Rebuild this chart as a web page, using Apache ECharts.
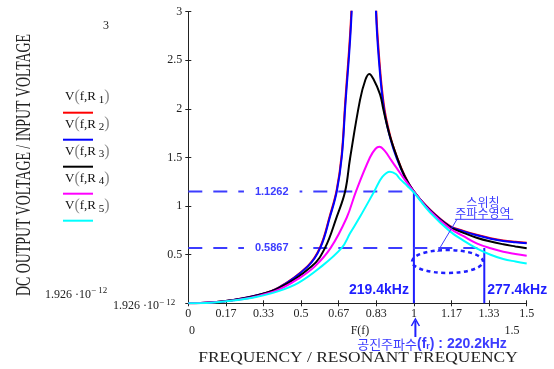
<!DOCTYPE html>
<html><head><meta charset="utf-8">
<script src="https://cdn.jsdelivr.net/npm/echarts@6/dist/echarts.min.js"></script>
<style>html,body{margin:0;padding:0;background:#fff}#c{width:554px;height:369px}</style>
</head><body><div id="c"></div>
<script>
// ---- data ----
const xTickLabels = ['0','0.17','0.33','0.5','0.67','0.83','1','1.17','1.33','1.5'];
const yTickLabels = ['0','0.5','1','1.5','2','2.5','3'];
const legendNames = ['1','2','3','4','5'];

const curveR1 = [[0,0],[0.1,0.008],[0.2,0.035],[0.3,0.081],[0.4,0.162],[0.53,0.385],[0.585,0.58],[0.628,0.905],[0.658,1.17],[0.68,1.53],[0.695,2.05],[0.724,3.08],[0.75,5.5],[0.78,9],[0.81,5.2],[0.832,3.08],[0.845,2.56],[0.867,2.04],[0.895,1.72],[0.924,1.51],[0.96,1.31],[1.0,1.15],[1.071,0.965],[1.16,0.795],[1.22,0.745],[1.278,0.705],[1.34,0.67],[1.396,0.646],[1.45,0.632],[1.5,0.622]];
const curveR2 = [[0,0],[0.1,0.008],[0.2,0.035],[0.3,0.08],[0.4,0.16],[0.53,0.38],[0.585,0.57],[0.628,0.89],[0.658,1.15],[0.68,1.5],[0.695,2.0],[0.724,3.0],[0.75,5.0],[0.78,7.0],[0.81,4.8],[0.832,3.0],[0.845,2.5],[0.867,2.0],[0.895,1.7],[0.924,1.49],[0.96,1.3],[1.0,1.15],[1.071,0.96],[1.16,0.79],[1.22,0.74],[1.278,0.70],[1.34,0.665],[1.396,0.641],[1.45,0.627],[1.5,0.617]];
const curveR3 = [[0,0],[0.1,0.008],[0.2,0.034],[0.3,0.078],[0.4,0.155],[0.547,0.38],[0.606,0.57],[0.658,0.89],[0.695,1.15],[0.717,1.49],[0.761,2.09],[0.785,2.30],[0.802,2.36],[0.82,2.31],[0.85,2.15],[0.865,1.99],[0.89,1.75],[0.924,1.51],[0.96,1.30],[1.0,1.15],[1.071,0.955],[1.16,0.785],[1.22,0.725],[1.278,0.675],[1.34,0.635],[1.396,0.607],[1.45,0.585],[1.5,0.566]];
const curveR4 = [[0,0],[0.1,0.007],[0.2,0.03],[0.3,0.07],[0.4,0.14],[0.486,0.25],[0.561,0.38],[0.631,0.57],[0.702,0.88],[0.743,1.15],[0.805,1.5],[0.83,1.59],[0.847,1.61],[0.87,1.57],[0.9,1.47],[0.924,1.39],[0.96,1.27],[1.0,1.15],[1.071,0.95],[1.16,0.77],[1.22,0.69],[1.278,0.617],[1.34,0.566],[1.396,0.531],[1.45,0.508],[1.5,0.49]];
const curveR5 = [[0,0],[0.1,0.006],[0.2,0.028],[0.3,0.065],[0.4,0.125],[0.488,0.21],[0.58,0.36],[0.68,0.57],[0.717,0.72],[0.761,0.89],[0.824,1.15],[0.86,1.30],[0.894,1.354],[0.92,1.33],[0.938,1.28],[0.97,1.21],[1.0,1.14],[1.071,0.935],[1.16,0.74],[1.22,0.645],[1.278,0.566],[1.34,0.50],[1.396,0.456],[1.45,0.43],[1.5,0.41]];

const refLevels = [1.15, 0.57];          // where the dashed guide lines are drawn
const refLabels = ['1.1262', '0.5867'];
const refEnds = [1.0, 1.312];            // F(f) where each guide line stops
const freqLabels = ['219.4kHz', '277.4kHz'];

// ---- chart ----
const SERIF = 'Liberation Serif';
const SANS = 'Liberation Sans';
const KR = 'Noto Sans CJK KR';
const BLUE = '#3c3cff';
const VBLUE = '#1f1fff';
const AX = '#222';

const chart = echarts.init(document.getElementById('c'), null, {renderer: 'canvas'});

function curve(name, data, color) {
  return {name, type: 'line', data, showSymbol: false, smooth: 0.4,
    lineStyle: {color, width: 2}, itemStyle: {color}, animation: false, clip: true, silent: true};
}
function guide(data, color, type, width) {
  return {type: 'line', data, showSymbol: false, lineStyle: {color, width, type}, animation: false, silent: true, z: 1};
}

const series = [
  curve('R1', curveR1, '#ff0000'),
  curve('R2', curveR2, '#0000ff'),
  curve('R3', curveR3, '#000000'),
  curve('R4', curveR4, '#ff00ff'),
  curve('R5', curveR5, '#00ffff'),
];
refLevels.forEach((lv, i) => {
  series.push(guide([[0, lv], [refEnds[i], lv]], BLUE, [14, 11], 2));
  series.push(guide([[refEnds[i], lv], [refEnds[i], 0]], VBLUE, 'solid', 2));
});

const axisFont = {fontFamily: SERIF, fontSize: 12, color: AX};

chart.setOption({
  animation: false,
  backgroundColor: '#fff',
  grid: {left: 188.3, top: 11.7, right: 27.3, bottom: 65.7, containLabel: false, outerBoundsMode: 'none'},
  xAxis: [{
    type: 'value', min: 0, max: 1.5, interval: 1 / 6,
    axisLine: {lineStyle: {color: AX, width: 1}},
    axisTick: {length: 3, lineStyle: {color: AX}},
    splitLine: {show: false},
    axisLabel: Object.assign({margin: 5, showMaxLabel: true, showMinLabel: true,
      formatter: v => xTickLabels[Math.round(v * 6)]}, axisFont)
  }, {
    type: 'value', min: 0, max: 1.5, interval: 1 / 6, position: 'bottom',
    axisLine: {show: false}, axisLabel: {show: false}, splitLine: {show: false},
    axisTick: {inside: true, length: 3, lineStyle: {color: AX}}
  }],
  yAxis: [{
    type: 'value', min: 0, max: 3, interval: 0.5,
    axisLine: {show: true, lineStyle: {color: AX, width: 1}},
    axisTick: {show: true, length: 3, lineStyle: {color: AX}},
    splitLine: {show: false},
    axisLabel: Object.assign({margin: 6,
      formatter: v => {
        const i = Math.round(v * 2);
        if (i === 0) return '{m|1.926 ·10}{s|− 12}';
        return yTickLabels[i];
      },
      rich: {m: {fontFamily: SERIF, fontSize: 12, color: AX, padding: [6, 0, 0, 0]},
             s: {fontFamily: SERIF, fontSize: 9, color: AX, padding: [0, 7, 2, 0]}}
    }, axisFont)
  }, {
    type: 'value', min: 0, max: 3, interval: 0.5, position: 'left',
    axisLine: {show: false}, axisLabel: {show: false}, splitLine: {show: false},
    axisTick: {show: true, inside: true, length: 3, lineStyle: {color: AX}}
  }],
  series
});

// ---- annotations positioned through the chart's own scales ----
const P = (x, y) => chart.convertToPixel({gridIndex: 0}, [x, y]);
const g = [];

// guide labels
refLevels.forEach((lv, i) => {
  const p = P(0.37, lv);
  g.push({type: 'text', x: p[0], y: p[1], z: 50, style: {text: refLabels[i], fill: BLUE,
    font: 'bold 11px ' + SANS, align: 'center', verticalAlign: 'middle',
    backgroundColor: '#fff', padding: [2, 11]}});
});
{
  const a = P(refEnds[0], 0.137), b = P(refEnds[1], 0.137);
  g.push({type: 'text', x: a[0] - 5, y: a[1], z: 50, style: {text: freqLabels[0], fill: VBLUE,
    font: 'bold 14px ' + SANS, align: 'right', verticalAlign: 'middle'}});
  g.push({type: 'text', x: b[0] + 3, y: b[1], z: 50, style: {text: freqLabels[1], fill: VBLUE,
    font: 'bold 14px ' + SANS, align: 'left', verticalAlign: 'middle'}});
}
// switching-frequency region ellipse
{
  const c = P(1.149, 0.43);
  g.push({type: 'ellipse', z: 50, shape: {cx: c[0], cy: c[1], rx: 35.5, ry: 11.5},
    style: {fill: null, stroke: VBLUE, lineWidth: 2.5, lineDash: [4, 3.5]}});
  const t1 = P(1.306, 1.035), t2 = P(1.306, 0.926);
  g.push({type: 'text', x: t1[0], y: t1[1], z: 50, style: {text: '스위칭', fill: BLUE,
    font: '12px "' + KR + '"', align: 'center', verticalAlign: 'middle'}});
  g.push({type: 'text', x: t2[0], y: t2[1], z: 50, style: {text: '주파수영역', fill: BLUE,
    font: '12px "' + KR + '"', align: 'center', verticalAlign: 'middle'}});
  const u0 = P(1.182, 0.864), u1 = P(1.44, 0.864), l1 = P(1.105, 0.53);
  g.push({type: 'line', z: 50, shape: {x1: u0[0], y1: u0[1], x2: u1[0], y2: u1[1]}, style: {stroke: BLUE, lineWidth: 1}});
  g.push({type: 'line', z: 50, shape: {x1: u0[0] + 2, y1: u0[1], x2: l1[0], y2: l1[1]}, style: {stroke: BLUE, lineWidth: 1}});
}
// resonant-frequency arrow and caption below the axis
{
  const a = P(1, 0);
  const ax = a[0] + 1.5;
  g.push({type: 'line', z: 50, shape: {x1: ax, y1: 337, x2: ax, y2: 321}, style: {stroke: VBLUE, lineWidth: 2}});
  g.push({type: 'polyline', z: 50, shape: {points: [[ax - 4, 326], [ax, 319], [ax + 4, 326]]}, style: {stroke: VBLUE, lineWidth: 1.5, fill: null}});
  g.push({type: 'text', x: 432, y: 344, z: 50, style: {
    text: '{k|공진주파수}{b|(f}{r|r}{b|) : 220.2kHz}', align: 'center', verticalAlign: 'middle',
    rich: {k: {font: '13px "' + KR + '"', fill: BLUE},
           b: {font: 'bold 14px ' + SANS, fill: BLUE},
           r: {font: 'bold 9px ' + SANS, fill: BLUE, padding: [6, 0, 0, 0]}}}});
}
// second row of x labels (Mathcad style)
g.push({type: 'text', x: 192, y: 331, style: {text: '0', font: '12px ' + SERIF, fill: AX, align: 'center', verticalAlign: 'middle'}});
g.push({type: 'text', x: 360, y: 331, style: {text: 'F(f)', font: '12px ' + SERIF, fill: AX, align: 'center', verticalAlign: 'middle'}});
g.push({type: 'text', x: 512, y: 331, style: {text: '1.5', font: '12px ' + SERIF, fill: AX, align: 'center', verticalAlign: 'middle'}});
// axis titles
g.push({type: 'text', x: 358, y: 358, scaleX: 1.16, style: {text: 'FREQUENCY / RESONANT FREQUENCY', font: '15px ' + SERIF, fill: AX, align: 'center', verticalAlign: 'middle'}});
g.push({type: 'text', x: 24, y: 165, rotation: Math.PI / 2, scaleX: 0.66, style: {text: 'DC OUTPUT VOLTAGE / INPUT VOLTAGE', font: '21px ' + SERIF, fill: AX, align: 'center', verticalAlign: 'middle'}});
// left Mathcad range labels
g.push({type: 'text', x: 106, y: 26, style: {text: '3', font: '12px ' + SERIF, fill: AX, align: 'center', verticalAlign: 'middle'}});
g.push({type: 'text', x: 45, y: 292, style: {text: '{m|1.926 ·10}{s|− 12}', align: 'left', verticalAlign: 'middle',
  rich: {m: {fontFamily: SERIF, fontSize: 12, fill: AX, padding: [6, 0, 0, 0]}, s: {fontFamily: SERIF, fontSize: 9, fill: AX, padding: [0, 0, 2, 0]}}}});
// legend (text above coloured line)
const legendColors = ['#ff0000', '#0000ff', '#000000', '#ff00ff', '#00ffff'];
legendNames.forEach((n, i) => {
  const ty = 97 + i * 27.2, ly = 112.7 + i * 27;
  g.push({type: 'text', x: 65, y: ty, style: {text: '{a|V}{p|(}{a|f,R}{s| ' + n + '}{p|)}', align: 'left', verticalAlign: 'middle',
    rich: {a: {fontFamily: SERIF, fontSize: 13, fill: '#111'}, p: {fontFamily: SERIF, fontSize: 16, fill: '#888'},
           s: {fontFamily: SERIF, fontSize: 11, fill: '#111', padding: [6, 0, 0, 0]}}}});
  g.push({type: 'line', shape: {x1: 63, y1: ly, x2: 93, y2: ly}, style: {stroke: legendColors[i], lineWidth: 2}});
});

chart.setOption({graphic: {elements: g}});
</script></body></html>
